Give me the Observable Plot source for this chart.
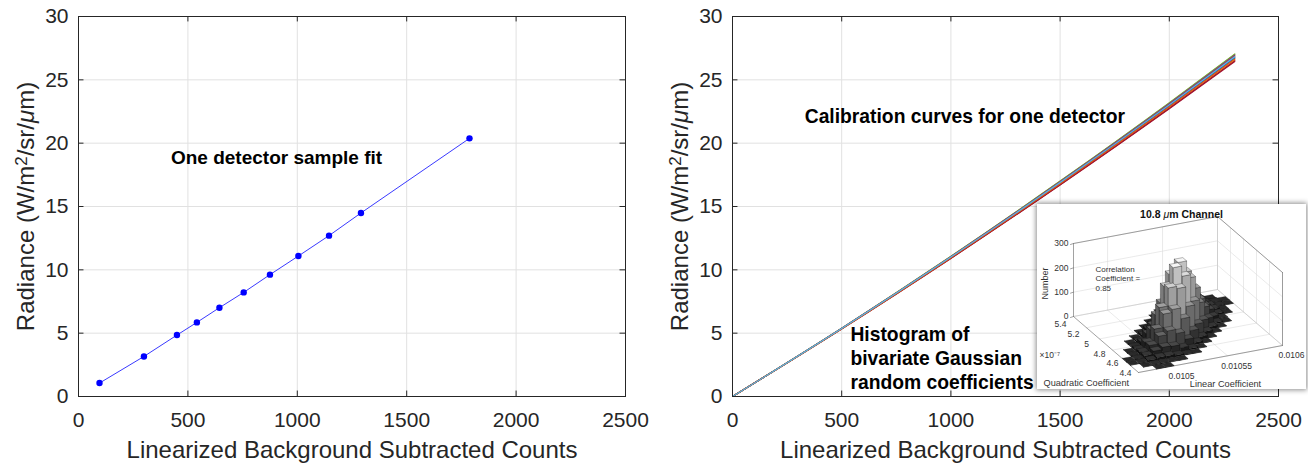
<!DOCTYPE html>
<html><head><meta charset="utf-8">
<script src="https://cdn.jsdelivr.net/npm/d3@7"></script>
<script src="https://cdn.jsdelivr.net/npm/@observablehq/plot@0.6"></script>
<style>
body{margin:0;background:#fff;}
#wrap{position:relative;width:1308px;height:464px;display:flex;font-family:"Liberation Sans",Arial,sans-serif;}
#wrap > svg{flex:none;}
#inset{position:absolute;left:1037px;top:204px;width:269px;height:185px;background:#fff;box-shadow:0 0 5px 1px rgba(0,0,0,0.45);}
</style></head><body><div id="wrap"></div>
<script>
// ---------- data ----------
const leftCounts   = [96, 299, 450, 541, 644, 755, 875, 1005, 1145, 1291, 1787];
const leftRadiance = [1.06, 3.16, 4.85, 5.85, 7.01, 8.22, 9.62, 11.09, 12.70, 14.49, 20.38];
const xTicks = [0, 500, 1000, 1500, 2000, 2500];
const yTicks = [0, 5, 10, 15, 20, 25, 30];
const curveCounts = [0, 500, 1000, 1500, 2000, 2300];
const curveRadiance = [
  [0, 5.36, 10.97, 16.83, 22.92, 26.70],
  [0, 5.34, 10.93, 16.75, 22.80, 26.55],
  [0, 5.38, 11.01, 16.91, 23.04, 26.85],
  [0, 5.36, 10.99, 16.85, 22.96, 26.75],
  [0, 5.39, 11.06, 16.99, 23.16, 27.00],
  [0, 5.37, 11.00, 16.88, 23.00, 26.80],
  [0, 5.33, 10.90, 16.70, 22.72, 26.45],
  [0, 5.40, 11.07, 17.01, 23.20, 27.05],
  [0, 5.38, 11.03, 16.93, 23.08, 26.90],
  [0, 5.35, 10.94, 16.77, 22.84, 26.60],
  [0, 5.39, 11.04, 16.96, 23.12, 26.95],
  [0, 5.34, 10.91, 16.72, 22.76, 26.50],
  [0, 5.35, 10.96, 16.80, 22.88, 26.65],
  [0, 5.37, 11.01, 16.89, 23.02, 26.82]
];
const curveColors = ["#0072BD","#D95319","#EDB120","#7E2F8E","#77AC30","#0072BD","#A2142F",
                     "#77AC30","#D95319","#EDB120","#7E2F8E","#A2142F","#D95319","#4DBEEE"];
// inset histogram (rows: quadratic bins from 5.4 down to 4.4; cols: linear bins low -> high)
const histCounts = [
  [0,0,0,0,0,0,0,0,0,0,0,0,1,1,0,0],
  [0,0,0,0,0,0,0,0,0,0,1,2,3,3,1,0],
  [0,0,0,0,0,0,0,0,1,3,7,11,11,7,3,1],
  [0,0,0,0,0,0,0,1,6,16,29,32,23,11,3,1],
  [0,0,0,0,0,0,2,10,30,61,78,63,32,11,2,0],
  [0,0,0,0,0,2,12,44,100,145,133,78,29,7,1,0],
  [0,0,0,0,2,12,50,129,210,219,145,61,16,3,0,0],
  [0,0,0,1,10,44,129,239,281,210,100,30,6,1,0,0],
  [0,0,1,6,30,100,210,281,239,129,44,10,1,0,0,0],
  [0,0,3,16,61,145,219,210,129,50,12,2,0,0,0,0],
  [0,1,7,29,78,133,145,100,44,12,2,0,0,0,0,0],
  [0,2,11,32,63,78,61,30,10,2,0,0,0,0,0,0],
  [1,3,11,23,32,29,16,6,1,0,0,0,0,0,0,0],
  [1,3,7,11,11,7,3,1,0,0,0,0,0,0,0,0],
  [0,1,3,3,2,1,0,0,0,0,0,0,0,0,0,0],
  [0,0,1,1,0,0,0,0,0,0,0,0,0,0,0,0]
];
const quadTicks = [5.4, 5.2, 5, 4.8, 4.6, 4.4];
const linTicks = [0.0105, 0.01055, 0.0106];
const numberTicks = [0, 100, 200, 300];
const linRange = [0.010469, 0.0106];
const quadRange = [5.4, 4.4];

// ---------- helpers ----------
const FONT = "'Liberation Sans', Arial, Helvetica, sans-serif";
const INK = "#262626";
const NS = "http://www.w3.org/2000/svg";
function panel(marks, marginRight) {
  return Plot.plot({
    width: 654, height: 464,
    marginLeft: 78, marginRight, marginTop: 16, marginBottom: 68,
    style: {fontFamily: FONT, fontSize: "21px", color: INK, background: "transparent", overflow: "visible"},
    x: {domain: [0, 2500]},
    y: {domain: [0, 30]},
    color: {type: "identity"},
    marks: [
      Plot.gridX(xTicks, {stroke: "#e1e1e1", strokeOpacity: 1}),
      Plot.gridY(yTicks, {stroke: "#e1e1e1", strokeOpacity: 1}),
      ...marks,
      Plot.frame({stroke: INK, strokeWidth: 1}),
      Plot.ruleX(xTicks, {x: d => d, y1: 0, y2: 0.43, stroke: INK}),
      Plot.ruleX(xTicks, {x: d => d, y1: 29.57, y2: 30, stroke: INK}),
      Plot.ruleY(yTicks, {y: d => d, x1: 0, x2: 25, stroke: INK}),
      Plot.ruleY(yTicks, {y: d => d, x1: 2475, x2: 2500, stroke: INK}),
      Plot.axisX({ticks: xTicks, tickSize: 0, tickPadding: 16, label: null, fontSize: 21, tickFormat: d => String(d)}),
      Plot.axisY({ticks: yTicks, tickSize: 0, tickPadding: 10, label: null, fontSize: 21, tickFormat: d => String(d)}),
      Plot.text(["Linearized Background Subtracted Counts"], {text: d => d, frameAnchor: "bottom", lineAnchor: "middle", dy: 54, fontSize: 24, fill: INK}),
      Plot.text(["Radiance (W/m2/sr/μm)"], {text: d => d, frameAnchor: "left", textAnchor: "middle", lineAnchor: "middle", dx: -52, rotate: -90, fontSize: 24, fill: INK})
    ]
  });
}
function richText(t, parts) {
  t.textContent = "";
  for (const [s, opts] of parts) {
    const sp = document.createElementNS(NS, "tspan");
    sp.textContent = s;
    for (const k in (opts || {})) sp.setAttribute(k, opts[k]);
    t.appendChild(sp);
  }
}
function fixYLabel(svg) {
  for (const t of svg.querySelectorAll("text")) {
    if (t.textContent === "Radiance (W/m2/sr/μm)") {
      richText(t, [["Radiance (W/m"], ["2", {dy: "-0.42em", "font-size": "17"}], ["/sr/", {dy: "0.3em"}],
                   ["μ", {"font-style": "italic"}], ["m)"]]);
    }
  }
  return svg;
}

// ---------- left panel ----------
const leftRows = leftCounts.map((x, i) => ({x, y: leftRadiance[i]}));
const left = panel([
  Plot.line(leftRows, {x: "x", y: "y", stroke: "#3a3aff", strokeWidth: 1}),
  Plot.dot(leftRows, {x: "x", y: "y", r: 3.2, fill: "#0000ff", stroke: "none"}),
  Plot.text(["One detector sample fit"], {text: d => d, x: 905, y: 18.8, fontSize: 19, fontWeight: "bold", fill: "#000"})
], 29);

// ---------- right panel ----------
const curveRows = [];
curveRadiance.forEach((arr, k) => arr.forEach((y, i) => curveRows.push({x: curveCounts[i], y, k, c: curveColors[k]})));
const right = panel([
  Plot.line(curveRows, {x: "x", y: "y", z: "k", stroke: "c", strokeWidth: 1.1, curve: "monotone-x"}),
  Plot.text(["Calibration curves for one detector"], {text: d => d, x: 1064, y: 22.05, fontSize: 19.3, fontWeight: "bold", fill: "#000"}),
  Plot.text(["Histogram of\nbivariate Gaussian\nrandom coefficients"], {text: d => d, x: 540, y: 3.06, textAnchor: "start", lineHeight: 1.24, fontSize: 19.3, fontWeight: "bold", fill: "#000"})
], 30);

// ---------- inset (3-D histogram, projected) ----------
const IW = 269, IH = 185;
const P = (s, t, z) => ({x: 36 + 65 * s + 144 * t, y: 112 + 56 * s - 27 * t - z * 73 / 300});
const sOf = q => (quadRange[0] - q) / (quadRange[0] - quadRange[1]);
const tOf = v => (v - linRange[0]) / (linRange[1] - linRange[0]);
let sid = 0;
const gridPts = [], edgePts = [], lightEdgePts = [];
const seg = (arr, a, b) => { sid++; arr.push({...a, id: sid}, {...b, id: sid}); };
const sT = quadTicks.map(sOf), tT = linTicks.map(tOf);
for (const z of numberTicks.slice(1)) { seg(gridPts, P(0, 0, z), P(0, 1, z)); seg(gridPts, P(0, 1, z), P(1, 1, z)); }
for (const t of tT) { seg(gridPts, P(0, t, 0), P(0, t, 300)); seg(gridPts, P(0, t, 0), P(1, t, 0)); }
for (const s of sT) { seg(gridPts, P(s, 1, 0), P(s, 1, 300)); seg(gridPts, P(s, 0, 0), P(s, 1, 0)); }
seg(lightEdgePts, P(0, 0, 0), P(0, 1, 0));
seg(lightEdgePts, P(0, 1, 0), P(1, 1, 0));
seg(lightEdgePts, P(0, 1, 0), P(0, 1, 300));
seg(edgePts, P(0, 0, 0), P(0, 0, 300));
seg(edgePts, P(0, 0, 300), P(0, 1, 300));
seg(edgePts, P(0, 1, 300), P(1, 1, 300));
seg(edgePts, P(1, 1, 300), P(1, 1, 0));
seg(edgePts, P(0, 0, 0), P(1, 0, 0));
seg(edgePts, P(1, 0, 0), P(1, 1, 0));
for (const z of numberTicks) { const p = P(0, 0, z); seg(edgePts, p, {x: p.x - 3, y: p.y + 1}); }

const nS = histCounts.length, nT = histCounts[0].length;
const cells = [];
histCounts.forEach((row, i) => row.forEach((c, j) => { if (c > 0) cells.push({i, j, c}); }));
cells.sort((a, b) => (a.i - a.j) - (b.i - b.j) || a.i - b.i);
const gray = v => { const g = Math.round(255 * Math.max(0, Math.min(1, v))); return d3.rgb(g, g, g).formatHex(); };
const facePts = [];
let fid = 0;
for (const {i, j, c} of cells) {
  const pad = 0.03;
  const s0 = (i + pad) / nS, s1 = (i + 1 - pad) / nS, t0 = (j + pad) / nT, t1 = (j + 1 - pad) / nT;
  const lv = Math.pow(Math.min(1, c / 285), 0.8);
  const base = 0.03 + 0.82 * lv;
  const polys = [
    [[[s0, t0, 0], [s1, t0, 0], [s1, t0, c], [s0, t0, c]], base * 0.72],
    [[[s1, t0, 0], [s1, t1, 0], [s1, t1, c], [s1, t0, c]], base * 0.9],
    [[[s0, t0, c], [s1, t0, c], [s1, t1, c], [s0, t1, c]], Math.min(1, base + 0.12)]
  ];
  for (const [poly, g] of polys) {
    fid++;
    const col = gray(g);
    for (const pt of [...poly, poly[0]]) facePts.push({...P(...pt), id: fid, col});
  }
}
const quadLabels = quadTicks.map(q => { const s = sOf(q); const p = P(s, 0, 0); return {x: p.x - 13, y: p.y + 8 - 7 * s, text: String(q)}; });
const linLabels = linTicks.map(v => { const p = P(1, tOf(v), 0); return {x: p.x + 9, y: p.y + 10, text: String(v)}; });
const numLabels = numberTicks.map(z => { const p = P(0, 0, z); return {x: p.x - 5, y: p.y, text: String(z)}; });

const inset = Plot.plot({
  width: IW, height: IH, margin: 0,
  x: {domain: [0, IW], range: [0, IW], axis: null},
  y: {domain: [0, IH], range: [0, IH], axis: null},
  color: {type: "identity"},
  style: {fontFamily: FONT, background: "transparent", color: "#222"},
  marks: [
    Plot.line(gridPts, {x: "x", y: "y", z: "id", stroke: "#dcdcdc", strokeWidth: 0.6}),
    Plot.line(lightEdgePts, {x: "x", y: "y", z: "id", stroke: "#c4c4c4", strokeWidth: 0.6}),
    Plot.line(edgePts, {x: "x", y: "y", z: "id", stroke: "#7a7a7a", strokeWidth: 0.7}),
    Plot.line(facePts, {x: "x", y: "y", z: "id", fill: "col", stroke: "#0a0a0a", strokeWidth: 0.3}),
    Plot.text(["10.8 μm Channel"], {text: d => d, x: 144, y: 10, fontSize: 10.5, fontWeight: "bold", fill: "#111"}),
    Plot.text(numLabels, {x: "x", y: "y", text: "text", textAnchor: "end", fontSize: 8.5, fill: "#333"}),
    Plot.text(quadLabels, {x: "x", y: "y", text: "text", fontSize: 8.5, fill: "#333"}),
    Plot.text(linLabels, {x: "x", y: "y", text: "text", fontSize: 8.5, fill: "#333"}),
    Plot.text(["×10⁻⁷"], {text: d => d, x: 2, y: 151, textAnchor: "start", fontSize: 8.5, fill: "#333"}),
    Plot.text(["Number"], {text: d => d, x: 8, y: 79, rotate: -90, fontSize: 9, fill: "#333"}),
    Plot.text(["Quadratic Coefficient"], {text: d => d, x: 6, y: 178.5, textAnchor: "start", fontSize: 9.2, fill: "#333"}),
    Plot.text(["Linear Coefficient"], {text: d => d, x: 188, y: 180, fontSize: 9.2, fill: "#333"}),
    Plot.text(["Correlation\nCoefficient =\n0.85"], {text: d => d, x: 58, y: 74, textAnchor: "start", lineHeight: 1.15, fontSize: 8, fill: "#333"})
  ]
});
for (const t of inset.querySelectorAll("text")) {
  if (t.textContent === "10.8 μm Channel") richText(t, [["10.8 "], ["μ", {"font-style": "italic", "font-weight": "normal"}], ["m Channel"]]);
}

const wrap = document.getElementById("wrap");
wrap.appendChild(fixYLabel(left));
wrap.appendChild(fixYLabel(right));
const box = document.createElement("div");
box.id = "inset";
box.appendChild(inset);
wrap.appendChild(box);
</script>
</body></html>
